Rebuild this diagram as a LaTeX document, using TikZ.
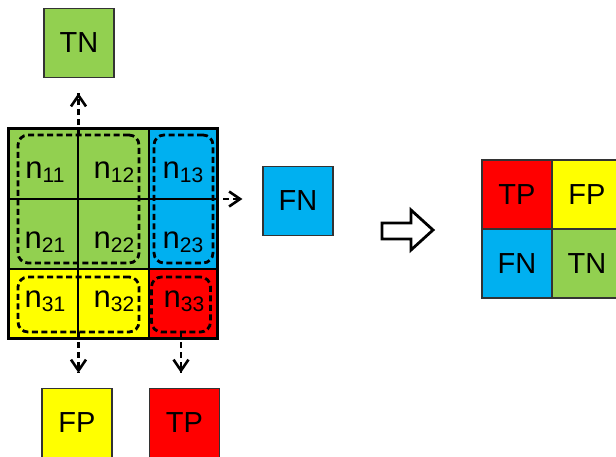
\documentclass[tikz,border=0pt]{standalone}
\usepackage{fontspec}
\setmainfont{Liberation Sans}
\usetikzlibrary{arrows.meta,decorations.markings}
\definecolor{cgreen}{RGB}{146,208,80}
\definecolor{cblue}{RGB}{0,176,240}
\definecolor{cyellow}{RGB}{255,255,0}
\definecolor{cred}{RGB}{255,0,0}
\newcommand\nlab[1]{n{\fontsize{21}{21}\selectfont\raisebox{-4pt}{#1}}}
\begin{document}
\begin{tikzpicture}[x=1pt,y=-1pt,
 lab/.style={anchor=base, inner sep=0pt, font=\fontsize{31}{31}\selectfont},
 box/.style={draw=black!80, line width=1.2pt, minimum width=70pt, minimum height=69pt, inner sep=0pt, font=\fontsize{29}{29}\selectfont},
 grp/.style={draw, line width=2.8pt, rounded corners=10pt, dash pattern=on 6pt off 3.5pt, inner sep=0pt, outer sep=0pt},
 flow/.style={line width=2.6pt, dash pattern=on 6pt off 4pt, shorten >=#1,
   decoration={markings, mark=at position -#1 with {\pgfsetdash{}{0pt}\arrow{Straight Barb[length=11pt,width=15pt,line width=2.6pt]}}},
   postaction=decorate}]
\useasboundingbox (0,0) rectangle (616,456);
% cell fills
\fill[cgreen] (8,128) rectangle (149,269);
\fill[cblue] (149,128) rectangle (217,269);
\fill[cyellow] (8,269) rectangle (149,338);
\fill[cred] (149,269) rectangle (217,338);
% inner lines
\draw[line width=1.8pt] (78,128) -- (78,338);
\draw[line width=1.8pt] (149,128) -- (149,338);
\draw[line width=1.8pt] (8,199) -- (217,199);
\draw[line width=1.8pt] (8,269) -- (217,269);
\draw[line width=3pt] (8,128) rectangle (217,338);
% labels
\node[lab] (n11) at (45,178) {\nlab{11}};
\node[lab] (n12) at (114,178) {\nlab{12}};
\node[lab] (n13) at (183,178) {\nlab{13}};
\node[lab] (n21) at (45,248) {\nlab{21}};
\node[lab] (n22) at (114,248) {\nlab{22}};
\node[lab] (n23) at (183,248) {\nlab{23}};
\node[lab] (n31) at (45,307) {\nlab{31}};
\node[lab] (n32) at (114,307) {\nlab{32}};
\node[lab] (n33) at (184,307) {\nlab{33}};
% groups
\node[grp, minimum width=121pt, minimum height=128pt] (g1) at (78.5,199) {};
\node[grp, minimum width=59pt, minimum height=128pt] (g2) at (183.5,199) {};
\node[grp, minimum width=121pt, minimum height=55pt] (g3) at (78.5,304.5) {};
\node[grp, minimum width=59pt, minimum height=55pt] (g4) at (181,304.5) {};
% result boxes
\node[box, fill=cgreen] (TN) at (79,43) {TN};
\node[box, fill=cblue] (FN) at (298,201) {FN};
\node[box, fill=cyellow] (FP) at (77,423) {FP};
\node[box, fill=cred] (TP) at (184.5,423) {TP};
% arrows
\draw[flow=15pt] (g1.north) -- (g1.north |- TN.south);
\draw[flow=20pt] (g2.east) -- (g2.east -| FN.west);
\draw[flow=15pt] (g3.south) -- (g3.south |- FP.north);
\draw[flow=15pt] (g4.south) -- (g4.south |- TP.north);
% hollow arrow
\draw[line width=2.8pt, fill=white, miter limit=10] (382,223) -- (411,223) -- (411,210) -- (433,230) -- (411,250) -- (411,239) -- (382,239) -- cycle;
% confusion matrix
\node[box, fill=cred] (mTP) at (517,194.5) {TP};
\node[box, fill=cyellow] (mFP) at (587,194.5) {FP};
\node[box, fill=cblue] (mFN) at (517,263.5) {FN};
\node[box, fill=cgreen] (mTN) at (587,263.5) {TN};
\end{tikzpicture}
\end{document}
